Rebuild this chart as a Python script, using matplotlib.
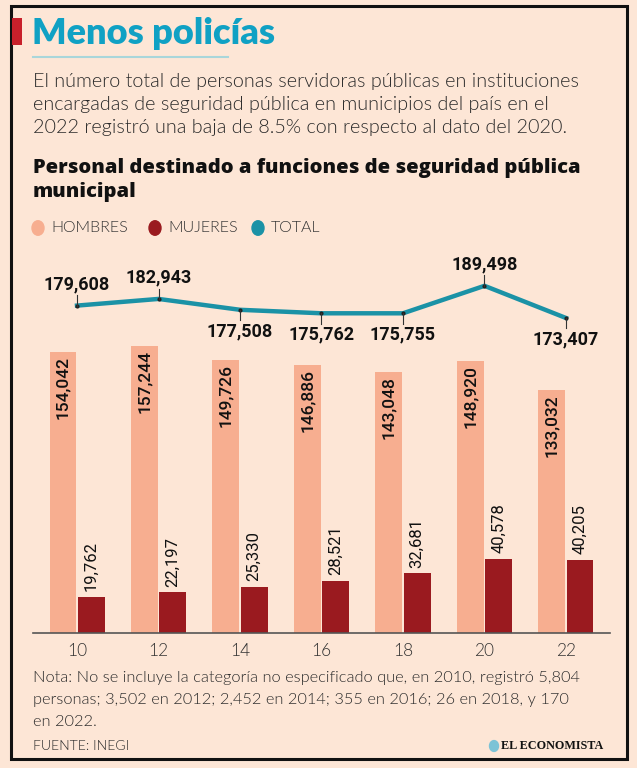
"""
Menos policías: personal de seguridad pública municipal por sexo, 2010-2022.
"""

import matplotlib
matplotlib.use("Agg")
import matplotlib.pyplot as plt
import numpy as np

years = [10, 12, 14, 16, 18, 20, 22]
hombres = [154042, 157244, 149726, 146886, 143048, 148920, 133032]
mujeres = [19762, 22197, 25330, 28521, 32681, 40578, 40205]
total = [179608, 182943, 177508, 175762, 175755, 189498, 173407]
total_above = [True, True, False, False, False, True, False]

BG = "#fde6d6"
C_HOM = "#f7ae90"
C_MUJ = "#9a1a1f"
C_TOT = "#1b92a6"
C_TITLE = "#10a1c4"
C_TEXT = "#2a2a2a"

W, H = 637, 768
NUM_FONT = "Roboto"
LIGHT = 300


def px(x, y):
  return x / W, 1 - y / H


fig = plt.figure(figsize=(W / 100, H / 100), dpi=100, facecolor=BG)

# frame and red accent
frame = plt.Rectangle(px(11, 759), (627 - 11) / W, (759 - 6) / H, transform=fig.transFigure,
                      fill=False, edgecolor="#111111", linewidth=2.2)
fig.patches.append(frame)
fig.patches.append(plt.Rectangle(px(12, 45), 10 / W, 27 / H, transform=fig.transFigure,
                                 color="#c8202b", linewidth=0))

fig.text(*px(32, 33), "Menos policías", fontsize=26, fontweight="heavy", family="Lato",
         color=C_TITLE, va="center", ha="left")
fig.add_artist(plt.Line2D([33 / W, 228 / W], [1 - 57 / H, 1 - 57 / H], color="#a9d6da", lw=1.5))

subtitle = ["El número total de personas servidoras públicas en instituciones",
            "encargadas de seguridad pública en municipios del país en el",
            "2022 registró una baja de 8.5% con respecto al dato del 2020."]
for i, line in enumerate(subtitle):
  fig.text(*px(33, 81 + i * 23.5), line, fontsize=14.2, fontweight=LIGHT, family="Lato",
           color=C_TEXT, va="center", ha="left")

fig.text(*px(33, 168), "Personal destinado a funciones de seguridad pública", fontsize=14.5,
         fontweight=800, family="Open Sans", color="#111111", va="center", ha="left")
fig.text(*px(33, 192), "municipal", fontsize=14.5, fontweight=800, family="Open Sans",
         color="#111111", va="center", ha="left")

for x, label, color in [(38, "HOMBRES", C_HOM), (155, "MUJERES", C_MUJ), (258, "TOTAL", C_TOT)]:
  fig.add_artist(plt.Circle(px(x, 228), 6 / W, transform=fig.transFigure, color=color))
  fig.text(*px(x + 13, 228), label, fontsize=11.5, fontweight=LIGHT, family="Lato",
           color="#333333", va="center", ha="left")

# chart axes
left, right, top, base = 33, 610, 250, 633
rect = [left / W, 1 - base / H, (right - left) / W, (base - top) / H]
axes = fig.add_axes(rect)
axes.set_facecolor("none")
x = np.array(years, dtype=float)
width = 0.66
axes.bar(x - 0.345, hombres, width, color=C_HOM)
axes.bar(x + 0.345, mujeres, width, color=C_MUJ)
axes.set_xlim(8.92, 23.08)
axes.set_ylim(0, 209900)
for s in ["top", "right", "left"]:
  axes.spines[s].set_visible(False)
axes.spines["bottom"].set_color("#555555")
axes.spines["bottom"].set_linewidth(1.2)
axes.set_yticks([])
axes.set_xticks(x)
axes.set_xticklabels([str(y) for y in years], fontsize=12.5, fontweight=LIGHT, family="Lato",
                     color="#333333")
axes.tick_params(axis="x", length=0, pad=7)

for xi, v in zip(x, hombres):
  axes.annotate(f"{v:,}", xy=(xi - 0.345, v), xytext=(0, -3), textcoords="offset points",
                rotation=90, ha="center", va="top", fontsize=12.5, fontweight="medium",
                family=NUM_FONT, color="#111111")
for xi, v in zip(x, mujeres):
  axes.annotate(f"{v:,}", xy=(xi + 0.345, v), xytext=(0, 4), textcoords="offset points",
                rotation=90, ha="center", va="bottom", fontsize=12, family=NUM_FONT,
                color="#111111")

line_axes = axes.twinx()
line_axes.set_position(rect)
line_axes.set_ylim(15907, 207407)
line_axes.axis("off")
line_axes.plot(x, total, color=C_TOT, lw=3.2, solid_joinstyle="miter")
line_axes.plot(x, total, "o", color="#222222", ms=2)
for xi, v, above in zip(x, total, total_above):
  sign = 1 if above else -1
  line_axes.plot([xi, xi], [v, v + sign * 5200], color="#333333", lw=0.8)
  line_axes.annotate(f"{v:,}", xy=(xi, v), xytext=(0, sign * 9), textcoords="offset points",
                     ha="center", va="bottom" if above else "top", fontsize=13,
                     fontweight="bold", family=NUM_FONT, color="#111111")

note = ["Nota: No se incluye la categoría no especificado que, en 2010, registró 5,804",
        "personas; 3,502 en 2012; 2,452 en 2014; 355 en 2016; 26 en 2018, y 170",
        "en 2022."]
for i, line in enumerate(note):
  fig.text(*px(33, 678 + i * 22), line, fontsize=11.8, fontweight=LIGHT, family="Lato",
           color=C_TEXT, va="center", ha="left")
fig.text(*px(33, 746), "FUENTE: INEGI", fontsize=10, fontweight=LIGHT, family="Lato",
         color=C_TEXT, va="center", ha="left")
fig.add_artist(plt.Circle(px(494, 746), 4.5 / W, transform=fig.transFigure, color="#7cc3d6"))
fig.text(*px(501, 746), "EL ECONOMISTA", fontsize=8.7, fontweight="bold",
         family="Liberation Serif", color="#111111", va="center", ha="left")

fig.savefig("out.png", dpi=100, facecolor=BG)
